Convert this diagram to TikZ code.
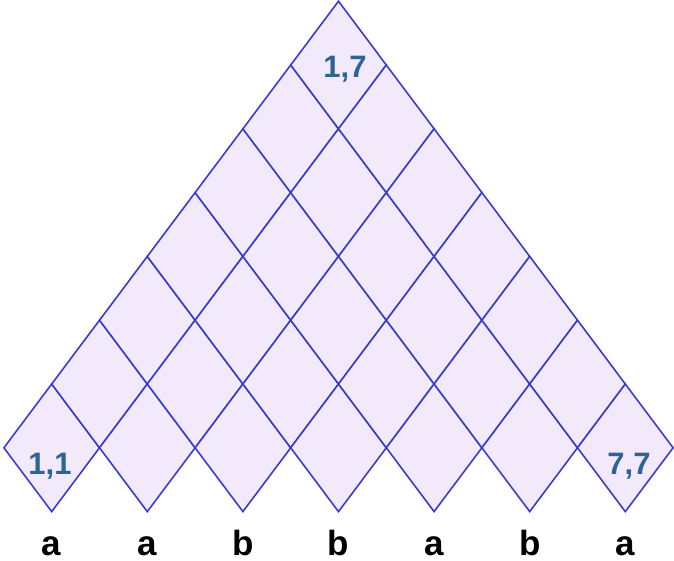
\documentclass[tikz,border=0pt]{standalone}
\usepackage{fontspec}
\setmainfont{Liberation Sans}
\definecolor{cellline}{HTML}{3C3CCC}
\definecolor{cellfill}{HTML}{F2EAFB}
\definecolor{celltext}{HTML}{2E6494}
\tikzset{
  cell/.style={draw=cellline, fill=cellfill, line width=1.6pt, line join=miter},
  index/.style={text=celltext, font=\fontsize{31}{31}\selectfont\bfseries, inner sep=0pt, anchor=base},
  letter/.style={text=black, font=\fontsize{35}{35}\selectfont\bfseries, inner sep=0pt, anchor=base}
}
\begin{document}
\begin{tikzpicture}[x=1pt, y=-1pt]
  \useasboundingbox (0,0) rectangle (674,560);
  % triangular table of cells (i,j), i <= j
  \foreach \i in {1,...,7}{
    \foreach \j in {\i,...,7}{
      \pgfmathsetmacro{\cx}{51.7+47.8*(\i+\j-2)}
      \pgfmathsetmacro{\cy}{447.8-63.8*(\j-\i)}
      \draw[cell] (\cx,\cy-63.8) -- (\cx+47.8,\cy) -- (\cx,\cy+63.8) -- (\cx-47.8,\cy) -- cycle;
    }
  }
  % corner labels
  \node[index] (c11) at (50,474) {1,1};
  \node[index] (c17) at (345,77) {1,7};
  \node[index] (c77) at (629,474) {7,7};
  % input word
  \foreach \ch [count=\k] in {a,a,b,b,a,b,a}{
    \node[letter] (w\k) at (51.7+95.6*\k-95.6,555) {\ch};
  }
\end{tikzpicture}
\end{document}
